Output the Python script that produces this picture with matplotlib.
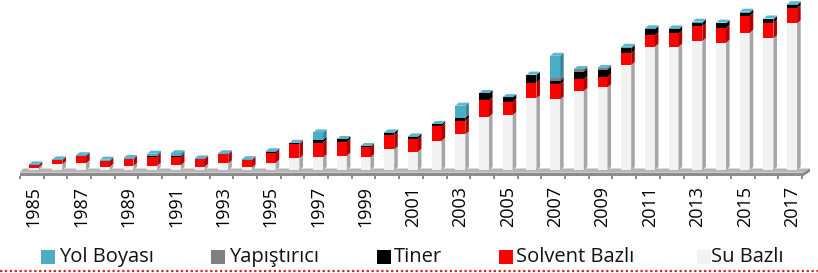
import numpy as np
import matplotlib.pyplot as plt
from matplotlib.patches import Polygon, Rectangle
from matplotlib.lines import Line2D

plt.rcParams['font.family'] = ['Open Sans', 'DejaVu Sans']

years = list(range(1985, 2018))
su_bazli = [2.5, 5.7, 6.7, 3.3, 4.0, 4.3, 5.0, 3.3, 6.7, 2.7, 7.3, 11.7, 12.7, 14.3, 12.7, 20.7, 18.3,
            29.3, 35.7, 53.3, 55.0, 71.7, 70.7, 79.0, 82.7, 105.0, 123.3, 123.3, 129.0, 127.3, 137.3, 131.7, 146.7]
solvent_bazli = [2.5, 4.3, 7.3, 5.7, 6.7, 9.0, 8.3, 7.7, 9.0, 7.3, 10.0, 14.0, 14.7, 14.0, 10.0, 14.3, 12.7,
                 14.7, 13.3, 16.7, 13.3, 15.7, 15.0, 12.0, 10.7, 11.7, 11.7, 13.3, 15.0, 15.0, 16.7, 15.7, 15.0]
tiner = [0.3, 0.3, 0.5, 0.5, 0.5, 1.0, 1.0, 0.3, 0.5, 0.3, 1.0, 1.0, 2.7, 2.4, 1.0, 2.3, 2.3,
         1.7, 3.3, 6.7, 4.3, 7.7, 3.3, 7.3, 6.7, 5.0, 5.7, 4.0, 3.3, 4.3, 3.3, 3.3, 3.3]
yapistirici = [0, 0, 0, 0, 0, 0, 0, 0, 0, 0, 0, 0, 0, 0, 0, 0, 0,
               0, 0, 0, 0, 0, 2.7, 2.3, 1.7, 0.5, 0, 0, 0, 0, 0, 0, 0]
yol_boyasi = [0.3, 0.3, 0.3, 0.8, 0.8, 2.0, 2.5, 0.3, 0.5, 0.5, 0.5, 0.5, 7.5, 0.3, 0.3, 0.3, 0.3,
              0.3, 12.0, 0.3, 0.3, 0.3, 22.5, 0.3, 0.3, 1.0, 1.0, 1.0, 1.0, 0.8, 1.0, 0.8, 0.8]

names = ['Su Bazlı', 'Solvent Bazlı', 'Tiner', 'Yapıştırıcı', 'Yol Boyası']
series = [su_bazli, solvent_bazli, tiner, yapistirici, yol_boyasi]
front_c = ['#f2f2f2', '#ff0000', '#000000', '#808080', '#4bacc6']
side_c = ['#a6a6a6', '#b00000', '#000000', '#555555', '#31859c']
top_c = ['#fafafa', '#ff4040', '#303030', '#9a9a9a', '#5cb6cf']

W, H = 818, 273
fig = plt.figure(figsize=(W / 100, H / 100), dpi=100)
ax = fig.add_axes([19.5 / W, (H - 175.5) / H, 791.6 / W, 173.5 / H])
ax.set_xlim(-0.6, 32.8)
ax.set_ylim(-5.5, 168)

x = np.arange(len(years))
bw = 0.42
dx, dy = 0.15, 3.0

# floor slab
ax.add_patch(Polygon([(-0.6, -2.7), (32.5, -2.7), (32.75, 1.5), (-0.45, 1.5)],
                     closed=True, fc='#b5b5b5', ec='none', clip_on=False, zorder=1))
ax.add_patch(Polygon([(-0.6, -5.5), (32.5, -5.5), (32.5, -2.7), (-0.6, -2.7)],
                     closed=True, fc='#8c8c8c', ec='none', clip_on=False, zorder=1))
ax.add_patch(Polygon([(32.5, -5.5), (32.75, -1.5), (32.75, 1.5), (32.5, -2.7)],
                     closed=True, fc='#7a7a7a', ec='none', clip_on=False, zorder=1))

bottom = np.zeros(len(years))
for vals, fc, sc in zip(series, front_c, side_c):
    vals = np.array(vals, dtype=float)
    ax.bar(x, vals, bw, bottom=bottom, color=fc, linewidth=0, zorder=3)
    for i in range(len(years)):
        if vals[i] <= 0:
            continue
        y0, y1 = bottom[i], bottom[i] + vals[i]
        xr = x[i] + bw / 2
        ax.add_patch(Polygon([(xr, y0), (xr + dx, y0 + dy), (xr + dx, y1 + dy), (xr, y1)],
                             closed=True, fc=sc, ec='none', zorder=3, clip_on=False))
    bottom = bottom + vals

# top faces, coloured by the highest non-empty series
for i in range(len(years)):
    k = max(j for j in range(len(series)) if series[j][i] > 0)
    t = bottom[i]
    xl, xr = x[i] - bw / 2, x[i] + bw / 2
    ax.add_patch(Polygon([(xl, t), (xr, t), (xr + dx, t + dy), (xl + dx, t + dy)],
                         closed=True, fc=top_c[k], ec='none', zorder=4, clip_on=False))

for s in ax.spines.values():
    s.set_visible(False)
ax.set_yticks([])
ax.set_xticks(x[::2])
ax.set_xticklabels([str(y) for y in years[::2]])
ax.set_xticks(np.arange(len(years) + 1) - 0.58, minor=True)
ax.tick_params(axis='x', which='major', length=0, pad=7.5, labelsize=13, labelrotation=90)
ax.tick_params(axis='x', which='minor', length=2.4, width=1.4, color='#8c8c8c')

# legend
leg_sq = [41, 211, 377, 499, 697]
leg_tx = [59, 229, 394, 516, 711]
leg_order = [4, 3, 2, 1, 0]
for sx, tx, k in zip(leg_sq, leg_tx, leg_order):
    fig.add_artist(Rectangle((sx / W, (H - 264) / H), 14 / W, 14 / H,
                             transform=fig.transFigure, fc=front_c[k], ec='none'))
    fig.text(tx / W, (H - 257) / H, names[k], fontsize=14.5, va='center', ha='left', color='#111111')

fig.add_artist(Line2D([0, 1], [(H - 270.5) / H] * 2, transform=fig.transFigure,
                      color='#e02020', lw=1.6, ls=(0, (1, 1.2))))

plt.savefig('out.png', dpi=100)
